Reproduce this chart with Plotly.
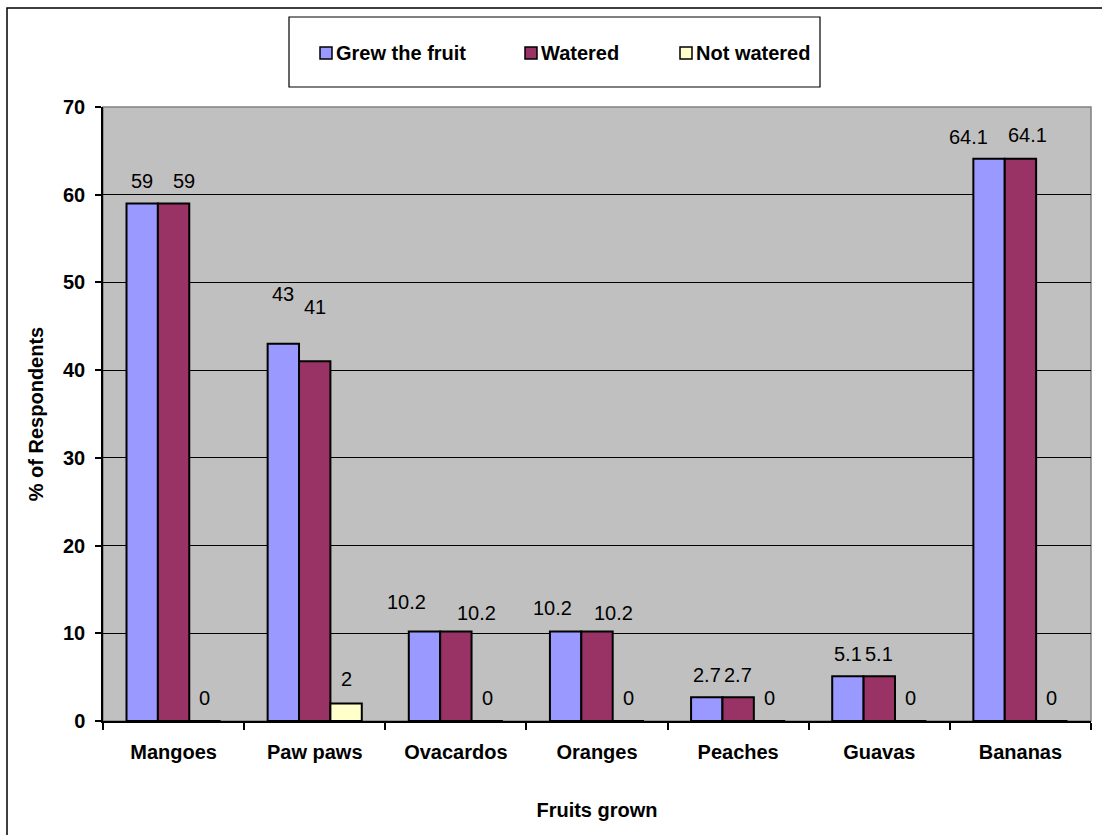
import plotly.graph_objects as go

# Survey data: share of respondents per fruit
fruits = ["Mangoes", "Paw paws", "Ovacardos", "Oranges", "Peaches", "Guavas", "Bananas"]
grew = [59, 43, 10.2, 10.2, 2.7, 5.1, 64.1]
watered = [59, 41, 10.2, 10.2, 2.7, 5.1, 64.1]
not_watered = [0, 2, 0, 0, 0, 0, 0]
series_names = ["Grew the fruit", "Watered", "Not watered"]
y_ticks = [0, 10, 20, 30, 40, 50, 60, 70]

colors = ["#9999FF", "#993366", "#FFFFCC"]
# nudges (px) that keep neighbouring value labels apart
label_dx = [
    [0, 0, -18, -13, 0, 0, -21],
    [10, 0, 21, 16, 0, 0, 7],
    [0, 0, 0, 0, 0, 0, 0],
]
label_dy = [
    [22, 50, 30, 24, 22, 22, 22],
    [22, 54, 19, 19, 22, 22, 24],
    [23, 24, 23, 23, 23, 23, 23],
]

FONT = "Liberation Sans, Arial, sans-serif"
W, H = 1102, 835
L, R, T, B = 103, 1091, 107, 721   # plot area in pixels

def px(xp):
    return (xp - L) / (R - L)

def py(yp):
    return (B - yp) / (B - T)

xs = list(range(len(fruits)))
bargap = 0.333
bar_w = (1 - bargap) / 3

fig = go.Figure()
all_series = [grew, watered, not_watered]
for name, vals, col in zip(series_names, all_series, colors):
    fig.add_trace(go.Bar(
        x=xs, y=vals, name=name,
        marker=dict(color=col, line=dict(color="black", width=2)),
        showlegend=False,
    ))

# value labels above each bar
annotations = []
for j, vals in enumerate(all_series):
    for i, v in enumerate(vals):
        annotations.append(dict(
            x=i + (j - 1) * bar_w, y=v, xref="x", yref="y",
            text=f"{v:g}", showarrow=False,
            xanchor="center", yanchor="middle",
            xshift=label_dx[j][i], yshift=label_dy[j][i],
            font=dict(family=FONT, size=20, color="black"),
        ))

# outer chart frame, legend box, swatches and legend text
shapes = []
shapes.append(dict(type="rect", xref="paper", yref="paper",
                   x0=px(7), x1=px(1115), y0=py(845), y1=py(8),
                   line=dict(color="black", width=1.5), fillcolor="rgba(0,0,0,0)", layer="below"))
shapes.append(dict(type="rect", xref="paper", yref="paper",
                   x0=px(289), x1=px(820), y0=py(87), y1=py(17),
                   line=dict(color="black", width=1.2), fillcolor="white"))
legend_x = [320, 525, 680]
for name, col, lx in zip(series_names, colors, legend_x):
    shapes.append(dict(type="rect", xref="paper", yref="paper",
                       x0=px(lx), x1=px(lx + 12), y0=py(59), y1=py(47),
                       line=dict(color="black", width=1.5), fillcolor=col))
    annotations.append(dict(
        x=px(lx + 14), y=py(53), xref="paper", yref="paper",
        text=f"<b>{name}</b>", showarrow=False,
        xanchor="left", yanchor="middle",
        font=dict(family=FONT, size=20, color="black"),
    ))

# plot area border
shapes.append(dict(type="rect", xref="paper", yref="paper", x0=0, x1=1, y0=0, y1=1,
                   line=dict(color="#808080", width=1.5), fillcolor="rgba(0,0,0,0)", layer="below"))

fig.update_layout(
    width=W, height=H,
    margin=dict(l=L, r=W - R, t=T, b=H - B),
    paper_bgcolor="white",
    plot_bgcolor="#C0C0C0",
    barmode="group",
    bargap=bargap,
    bargroupgap=0,
    font=dict(family=FONT, size=20, color="black"),
    annotations=annotations,
    shapes=shapes,
    xaxis=dict(
        range=[-0.5, len(fruits) - 0.5],
        tickmode="array", tickvals=xs, ticktext=fruits,
        ticks="", showgrid=False, zeroline=False,
        showline=True, linecolor="black", linewidth=1.5,
        tickfont=dict(family=FONT, size=20, weight="bold"),
        ticklabelstandoff=12,
        minor=dict(tickmode="array", tickvals=[k - 0.5 for k in range(len(fruits) + 1)],
                   ticks="outside", ticklen=7, tickcolor="black", tickwidth=1.5, showgrid=False),
        title=dict(text="Fruits grown", font=dict(family=FONT, size=20, weight="bold"), standoff=41),
    ),
    yaxis=dict(
        range=[0, 70], tickmode="array", tickvals=y_ticks,
        ticks="outside", ticklen=6, tickcolor="black", tickwidth=1.5,
        showgrid=True, gridcolor="black", gridwidth=1,
        zeroline=False, showline=True, linecolor="black", linewidth=1.5,
        tickfont=dict(family=FONT, size=20, weight="bold"),
        ticklabelstandoff=6,
        title=dict(text="% of Respondents", font=dict(family=FONT, size=20, weight="bold"), standoff=14),
    ),
)

fig.write_html("out.html")
